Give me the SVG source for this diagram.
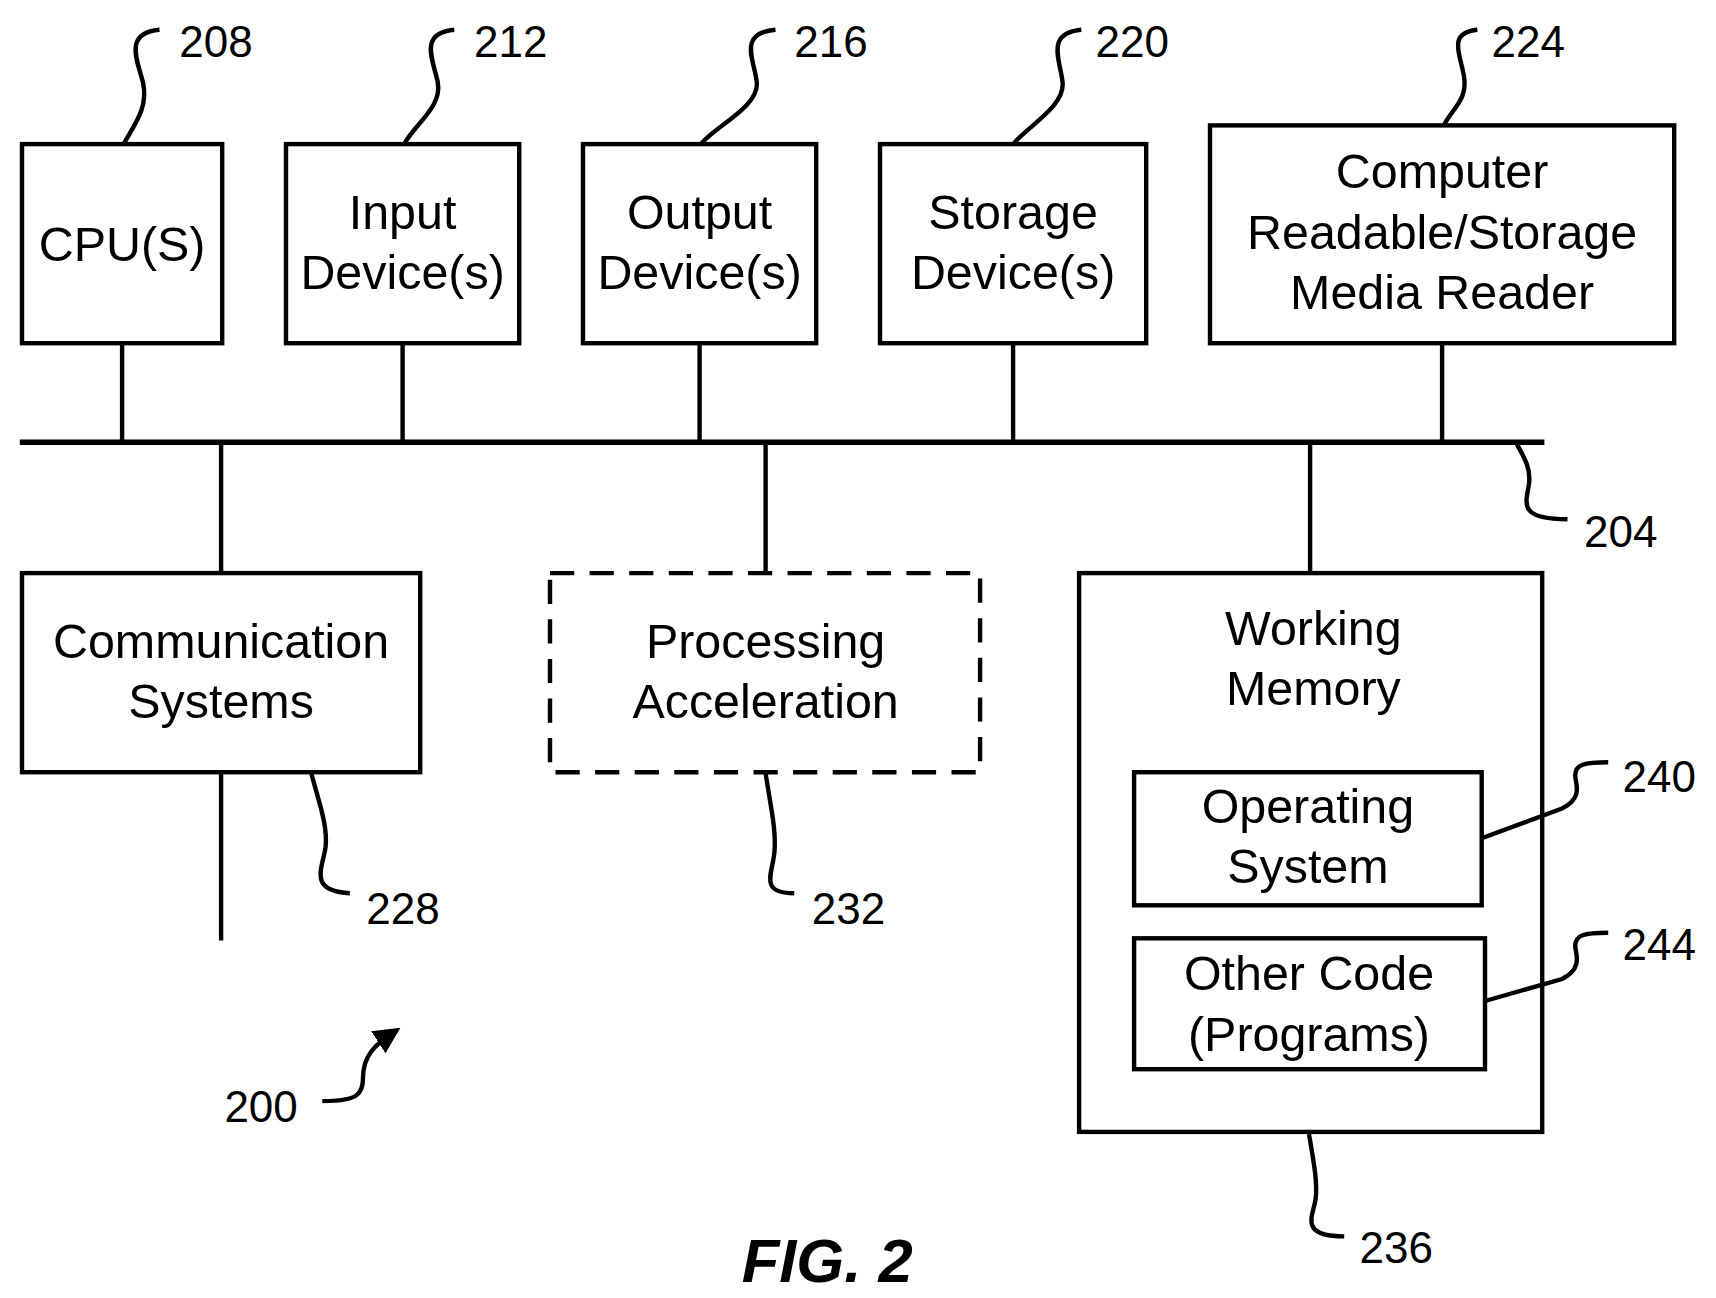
<svg xmlns="http://www.w3.org/2000/svg" width="1716" height="1298" viewBox="0 0 1716 1298">
<style>
.b{fill:none;stroke:#000;stroke-width:4}
.l{fill:none;stroke:#000;stroke-width:4}
.t{font-family:"Liberation Sans",Arial,sans-serif;font-size:44px;text-anchor:middle;fill:#000}
.n{font-family:"Liberation Sans",Arial,sans-serif;font-size:40px;fill:#000}
</style>
<defs><marker id="ah" viewBox="0 0 10 10" refX="8" refY="5" markerWidth="6" markerHeight="6" orient="auto"><path d="M0,0 L10,5 L0,10 z" fill="#000"/></marker></defs>
<rect width="1716" height="1298" fill="#fff"/>
<g transform="scale(1.1)">
<g id="connectors">
<line class="l" x1="18" y1="402" x2="1404" y2="402" style="stroke-width:5"/>
<path class="l" d="M111,312V402M366,312V402M636,312V402M921,312V402M1311,312V402M201,402V521M696,402V521M1191,402V521M201,702V855"/>
</g>
<g id="leaders" class="l">
<path class="l" d="M113,130 C123,112 135,97 130,75 C125,55 112,30 145,27"/>
<path class="l" d="M368,130 C378,112 402,97 398,75 C394,55 380,30 413,27"/>
<path class="l" d="M638,130 C650,115 690,97 688,75 C686,55 670,30 705,27"/>
<path class="l" d="M922,130 C934,115 968,97 966,75 C964,55 950,30 983,27"/>
<path class="l" d="M1313,113 C1322,97 1334,90 1331,70 C1328,50 1315,30 1343,27"/>
<path class="l" d="M1378,402 C1385,415 1392,425 1390,440 C1387,458 1380,472 1425,472"/>
<path class="l" d="M283,703 C290,730 298,750 296,770 C293,790 280,810 318,812"/>
<path class="l" d="M696,703 C700,730 706,755 704,775 C702,795 690,812 722,812"/>
<path class="l" d="M1190,1031 C1194,1055 1198,1075 1196,1090 C1194,1105 1180,1124 1222,1124"/>
<path class="l" d="M1347,762 L1420,735 C1440,725 1432,712 1432,705 C1432,695 1440,693 1462,693"/>
<path class="l" d="M1350,910 L1420,890 C1440,880 1432,866 1432,860 C1432,850 1440,848 1462,848"/>
<path class="l" d="M293,1001 C325,1001 330,995 330,980 C330,960 340,950 360,937" marker-end="url(#ah)"/>
</g>
<g id="cpu"><rect class="b" x="20" y="131" width="182" height="181"/><text class="t" x="111" y="237">CPU(S)</text></g>
<g id="input"><rect class="b" x="260" y="131" width="212" height="181"/><text class="t" x="366" y="208">Input</text><text class="t" x="366" y="263">Device(s)</text></g>
<g id="output"><rect class="b" x="530" y="131" width="212" height="181"/><text class="t" x="636" y="208">Output</text><text class="t" x="636" y="263">Device(s)</text></g>
<g id="storage"><rect class="b" x="800" y="131" width="242" height="181"/><text class="t" x="921" y="208">Storage</text><text class="t" x="921" y="263">Device(s)</text></g>
<g id="crm"><rect class="b" x="1100" y="114" width="422" height="198"/><text class="t" x="1311" y="171">Computer</text><text class="t" x="1311" y="226">Readable/Storage</text><text class="t" x="1311" y="281">Media Reader</text></g>
<g id="comm"><rect class="b" x="20" y="521" width="362" height="181"/><text class="t" x="201" y="598">Communication</text><text class="t" x="201" y="653">Systems</text></g>
<g id="proc"><rect class="b" x="500" y="521" width="391" height="181" stroke-dasharray="22,14"/><text class="t" x="696" y="598">Processing</text><text class="t" x="696" y="653">Acceleration</text></g>
<g id="wm"><rect class="b" x="981" y="521" width="421" height="508"/><text class="t" x="1194" y="586">Working</text><text class="t" x="1194" y="641">Memory</text></g>
<g id="os"><rect class="b" x="1031" y="702" width="316" height="121"/><text class="t" x="1189" y="748">Operating</text><text class="t" x="1189" y="803">System</text></g>
<g id="oc"><rect class="b" x="1031" y="853" width="319" height="119"/><text class="t" x="1190" y="900">Other Code</text><text class="t" x="1190" y="955">(Programs)</text></g>
<g id="labels">
<text class="n" x="163" y="52">208</text><text class="n" x="431" y="52">212</text><text class="n" x="722" y="52">216</text><text class="n" x="996" y="52">220</text><text class="n" x="1356" y="52">224</text>
<text class="n" x="1440" y="497">204</text><text class="n" x="333" y="840">228</text><text class="n" x="738" y="840">232</text><text class="n" x="1236" y="1148">236</text>
<text class="n" x="1475" y="720">240</text><text class="n" x="1475" y="873">244</text><text class="n" x="204" y="1020">200</text>
<text x="752" y="1165" style="font-family:'Liberation Sans',Arial,sans-serif;font-size:56px;font-weight:bold;font-style:italic;text-anchor:middle">FIG. 2</text>
</g>
</g>
</svg>
